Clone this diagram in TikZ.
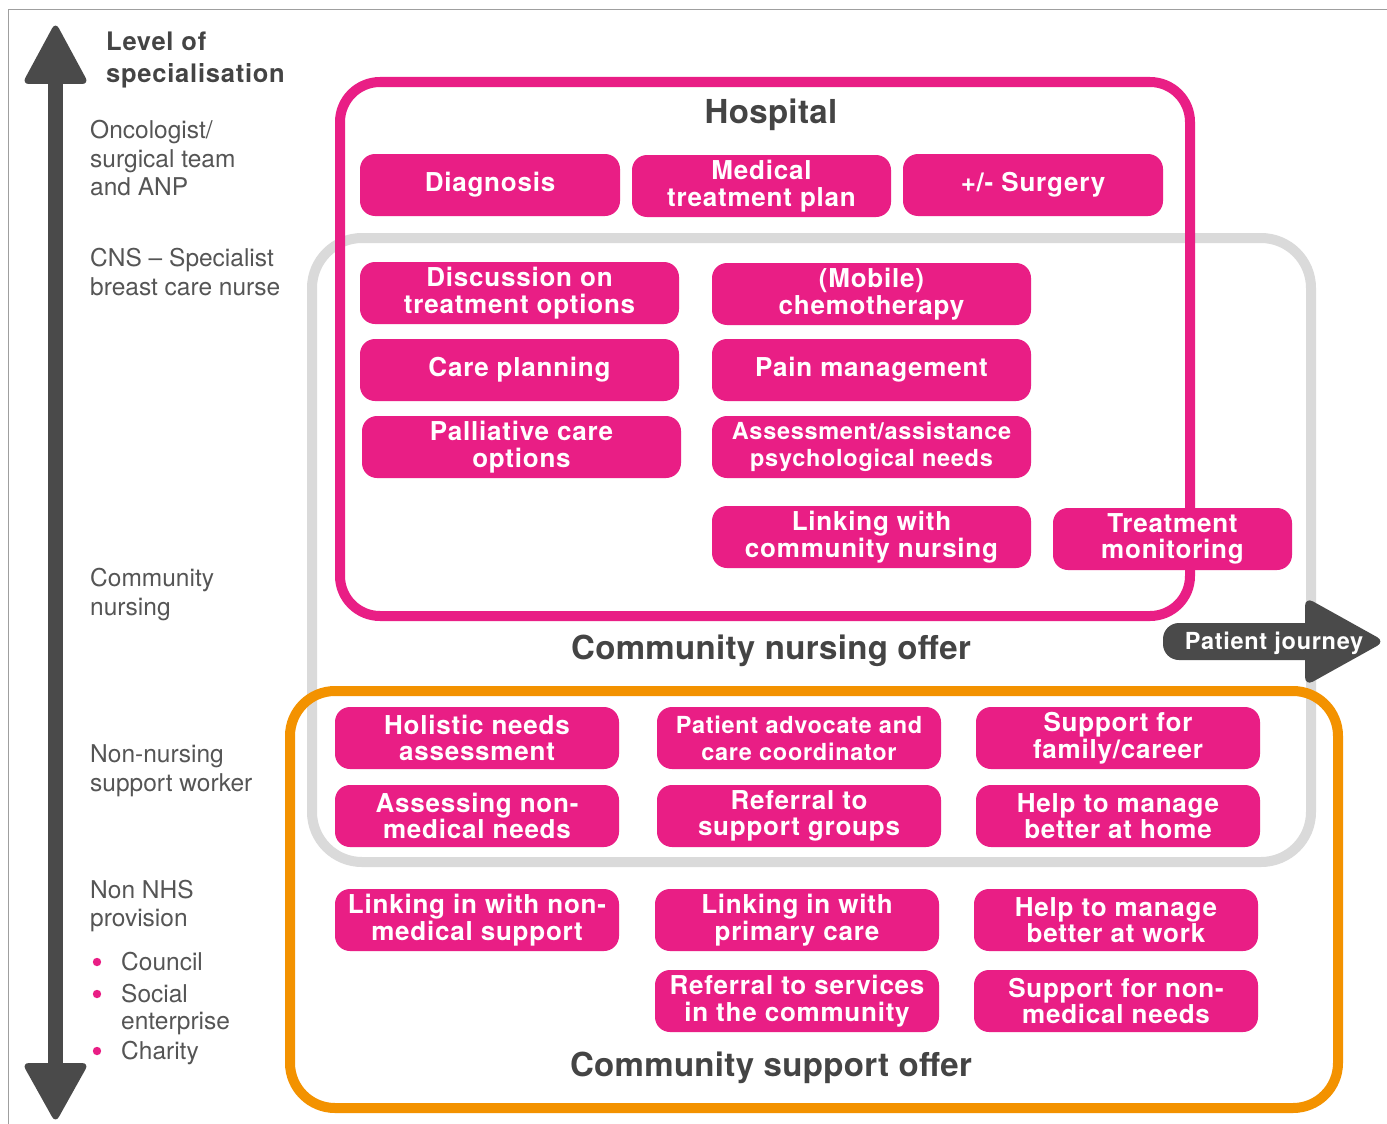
\documentclass[tikz,border=0pt]{standalone}
\usepackage{fontspec}
\setmainfont{TeX Gyre Heros}
\definecolor{pinkc}{HTML}{E91E85}
\definecolor{orangec}{HTML}{F39200}
\definecolor{grayf}{HTML}{DADADA}
\definecolor{darkc}{HTML}{4A4A4A}
\definecolor{labc}{HTML}{555555}
\definecolor{titc}{HTML}{444444}
\newcommand\boxfont{\fontsize{26}{26.5}\selectfont\bfseries\addfontfeatures{LetterSpace=3}}
\newcommand\smbfont{\fontsize{23.5}{27}\selectfont\bfseries\addfontfeatures{LetterSpace=3}}
\newcommand\labfont{\fontsize{24.5}{29}\selectfont}
\newcommand\titfont{\fontsize{33}{36}\selectfont\bfseries\addfontfeatures{LetterSpace=1}}
\newcommand\levfont{\fontsize{25.5}{30}\selectfont\bfseries\addfontfeatures{LetterSpace=3}}
\tikzset{
  pbox/.style={fill=pinkc, rounded corners=15pt, text=white, font=\boxfont, align=center, minimum height=62pt, inner sep=0pt},
  lab/.style={anchor=base west, inner sep=0pt, text=labc, font=\labfont},
  title/.style={inner sep=0pt, text=titc, font=\titfont},
  frame/.style={line width=10pt},
}
\begin{document}
\begin{tikzpicture}[x=1pt,y=-1pt]
\useasboundingbox (0,0) rectangle (1387,1124);
\fill[white] (0,0) rectangle (1387,1124);
\draw[gray!75, line width=1pt] (8,1124) -- (8,10) -- (1387,10);

% vertical arrow
\fill[darkc] (48,78) rectangle (63,1070);
\fill[darkc, rounded corners=7pt] (55.5,22) -- (89,84) -- (22,84) -- cycle;
\fill[darkc, rounded corners=7pt] (22,1063) -- (89,1063) -- (55.5,1123) -- cycle;

% left labels
\node[anchor=base west, inner sep=0pt, text=titc, font=\levfont] (lev1) at (106,51) {Level of};
\node[anchor=base west, inner sep=0pt, text=titc, font=\levfont] (lev2) at (106,83) {specialisation};
\node[lab] (a1) at (90,138) {Oncologist/};
\node[lab] (a2) at (90,167) {surgical team};
\node[lab] (a3) at (90,195) {and ANP};
\node[lab] (b1) at (90,266) {CNS – Specialist};
\node[lab] (b2) at (90,295) {breast care nurse};
\node[lab] (c1) at (90,586) {Community};
\node[lab] (c2) at (90,615) {nursing};
\node[lab] (d1) at (90,762) {Non-nursing};
\node[lab] (d2) at (90,791) {support worker};
\node[lab] (e1) at (90,898) {Non NHS};
\node[lab] (e2) at (90,926) {provision};
\node[lab] (f1) at (121,970) {Council};
\node[lab] (f2) at (121,1002) {Social};
\node[lab] (f3) at (121,1029) {enterprise};
\node[lab] (f4) at (121,1059) {Charity};
\fill[pinkc] (97,962) circle (4.2);
\fill[pinkc] (97,994) circle (4.2);
\fill[pinkc] (97,1051) circle (4.2);

% frames
\draw[frame, grayf, rounded corners=50pt] (312,238) rectangle (1311,862);
\draw[frame, pinkc, rounded corners=40pt] (340,82) rectangle (1190,616);
\draw[frame, orangec, rounded corners=45pt] (290,691) rectangle (1338,1108);

% titles
\node[title] (thosp) at (771,115) {Hospital};
\node[title] (tcno) at (771,651) {Community nursing offer};
\node[title] (tcso) at (771,1068) {Community support offer};

% hospital boxes
\node[pbox, minimum width=260pt] (diag) at (490,185) {Diagnosis};
\node[pbox, minimum width=259pt] (med) at (761.5,186) {Medical\\treatment plan};
\node[pbox, minimum width=260pt] (surg) at (1033,185) {+/- Surgery};
\node[pbox, minimum width=319pt] (disc) at (519.5,293) {Discussion on\\treatment options};
\node[pbox, minimum width=319pt] (chemo) at (871.5,294) {(Mobile)\\chemotherapy};
\node[pbox, minimum width=319pt] (care) at (519.5,370) {Care planning};
\node[pbox, minimum width=319pt] (pain) at (871.5,370) {Pain management};
\node[pbox, minimum width=319pt] (pall) at (521.5,447) {Palliative care\\options};
\node[pbox, minimum width=319pt, font=\smbfont] (psych) at (871.5,447) {Assessment/assistance\\psychological needs};
\node[pbox, minimum width=319pt] (link) at (871.5,537) {Linking with\\community nursing};
\node[pbox, minimum width=239pt] (tmon) at (1172.5,539) {Treatment\\monitoring};

% community boxes
\node[pbox, minimum width=284pt] (holi) at (477,738) {Holistic needs\\assessment};
\node[pbox, minimum width=284pt, font=\smbfont] (pat) at (799,738) {Patient advocate and\\care coordinator};
\node[pbox, minimum width=284pt] (fam) at (1118,738) {Support for\\family/career};
\node[pbox, minimum width=284pt] (assess) at (477,816) {Assessing non-\\medical needs};
\node[pbox, minimum width=284pt] (refg) at (799,816) {Referral to\\support groups};
\node[pbox, minimum width=284pt] (home) at (1118,816) {Help to manage\\better at home};
\node[pbox, minimum width=284pt] (linknm) at (477,920) {Linking in with non-\\medical support};
\node[pbox, minimum width=284pt] (prim) at (797,920) {Linking in with\\primary care};
\node[pbox, minimum width=284pt] (work) at (1116,920) {Help to manage\\better at work};
\node[pbox, minimum width=284pt] (refsvc) at (797,1001) {Referral to services\\in the community};
\node[pbox, minimum width=284pt] (supnm) at (1116,1001) {Support for non-\\medical needs};

% patient journey arrow
\fill[darkc, rounded corners=16pt] (1163,623) rectangle (1322,660);
\fill[darkc, rounded corners=9pt] (1305,597) -- (1385,641.5) -- (1305,686) -- cycle;
\node[inner sep=0pt, text=white, font=\fontsize{23.5}{26}\selectfont\bfseries\addfontfeatures{LetterSpace=3}] (pj) at (1274,643) {Patient journey};
\end{tikzpicture}
\end{document}
